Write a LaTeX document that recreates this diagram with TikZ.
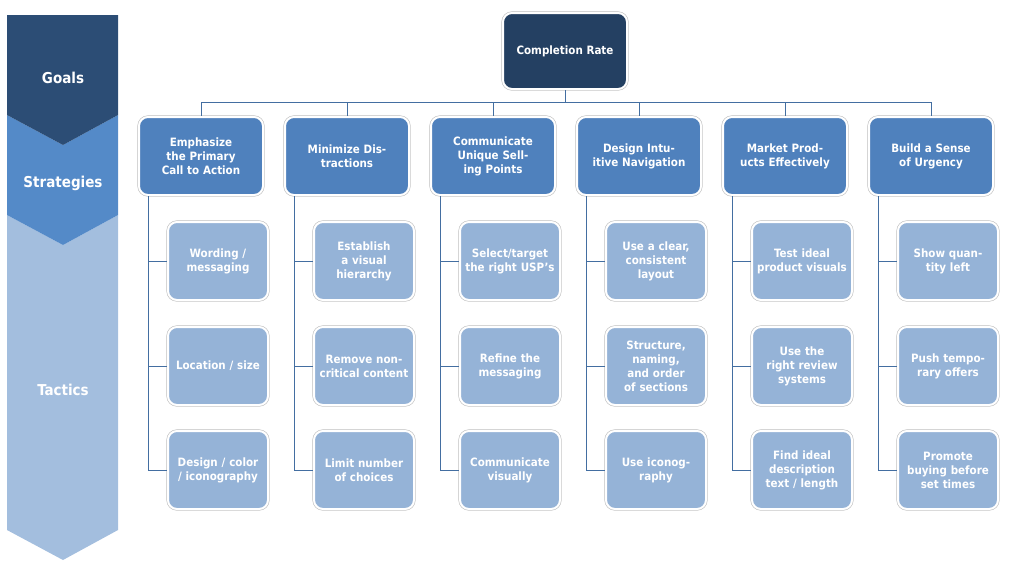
\documentclass[tikz,border=0pt]{standalone}
\usepackage{fontspec}
\setmainfont{DejaVu Sans Condensed}
\begin{document}
\begin{tikzpicture}[x=1pt,y=-1pt,
 box/.style={rounded corners=9pt,draw=white,line width=2pt,align=center,text=white,font=\bfseries\fontsize{11.5}{14}\selectfont,
   preaction={draw=black!25,line width=3.2pt,rounded corners=9pt}},
 goal/.style={box,fill=goalc,minimum width=124pt,minimum height=76pt},
 strat/.style={box,fill=stratc,minimum width=124pt,minimum height=78pt,text width=110pt},
 tact/.style={box,fill=tactc,minimum width=100pt,minimum height=78pt,text width=90pt},
 conn/.style={draw=stratc!85!black,line width=1pt},
 band/.style={font=\bfseries\fontsize{15}{18}\selectfont,text=white}]
\definecolor{goalc}{RGB}{36,64,98}
\definecolor{stratc}{RGB}{79,129,189}
\definecolor{tactc}{RGB}{149,179,215}
\definecolor{bandg}{RGB}{44,77,117}
\definecolor{bands}{RGB}{84,138,200}
\definecolor{bandt}{RGB}{163,190,222}
\useasboundingbox (0,0) rectangle (1034,566);
% banner
\fill[bandt] (7,215) -- (63,245) -- (118,215) -- (118,530) -- (63,560) -- (7,530) -- cycle;
\fill[bands] (7,115) -- (63,145) -- (118,115) -- (118,215) -- (63,245) -- (7,215) -- cycle;
\fill[bandg] (7,15) -- (118,15) -- (118,115) -- (63,145) -- (7,115) -- cycle;
\node[band] (lg) at (63,78) {Goals};
\node[band] (ls) at (63,183) {Strategies};
\node[band] (lt) at (63,390) {Tactics};
% goal
\node[goal] (g) at (565,51) {Completion Rate};
\coordinate (bus) at (565,102);
\foreach \i/\x/\t in {1/201/{Emphasize the Primary Call to Action},2/347/{Minimize Distractions},3/493/{Communicate Unique Selling Points},4/639/{Design Intuitive Navigation},5/785/{Market Products Effectively},6/931/{Build a Sense of Urgency}}{
  \node[strat] (s\i) at (\x,156) {\t};
  \coordinate (b\i) at (\x,102);
}
\draw[conn] (g.south) -- (bus);
\draw[conn] (b1) -- (b6);
\foreach \i in {1,...,6}{\draw[conn] (b\i) -- (s\i.north);}
\def\row#1#2#3#4{%
 \node[tact] (t#1a) at (#2+218-201,261) {#3};}
\foreach \i/\x/\ta/\tb/\tc in {
 1/201/{Wording / messaging}/{Location / size}/{Design / color / iconography},
 2/347/{Establish a visual hierarchy}/{Remove non-critical content}/{Limit number of choices},
 3/493/{Select/target the right USP's}/{Refine the messaging}/{Communicate visually},
 4/639/{Use a clear, consistent layout}/{Structure, naming, and order of sections}/{Use iconography},
 5/785/{Test ideal product visuals}/{Use the right review systems}/{Find ideal description text / length},
 6/931/{Show quantity left}/{Push temporary offers}/{Promote buying before set times}}{
  \node[tact] (t\i a) at (\x+17,261) {\ta};
  \node[tact] (t\i b) at (\x+17,366) {\tb};
  \node[tact] (t\i c) at (\x+17,470) {\tc};
  \coordinate (sp\i) at (\x-53,196);
  \coordinate (se\i) at (\x-53,470);
  \draw[conn] (sp\i) -- (se\i) -- (t\i c.west);
  \draw[conn] (t\i a.west) -- (t\i a.west -| sp\i);
  \draw[conn] (t\i b.west) -- (t\i b.west -| sp\i);
}
\end{tikzpicture}
\end{document}
